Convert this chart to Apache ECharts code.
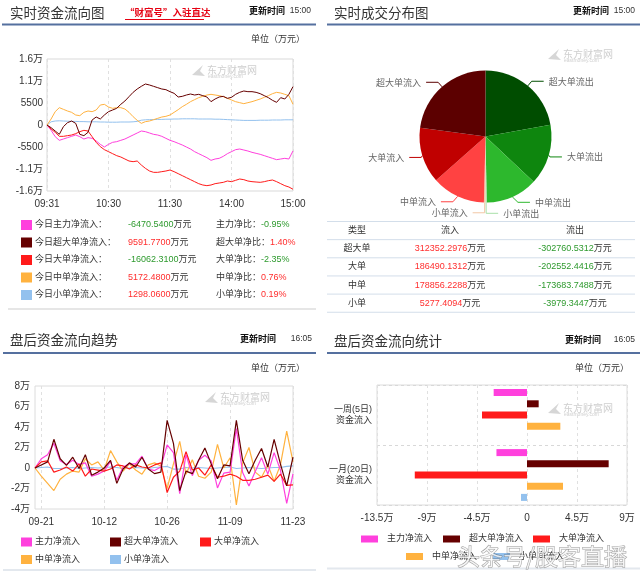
<!DOCTYPE html>
<html>
<head>
<meta charset="utf-8">
<title>资金流向</title>
<script src="https://cdn.jsdelivr.net/npm/echarts@6.0.0/dist/echarts.min.js"></script>
<style>
html,body{margin:0;padding:0;background:#fff;}
#main{width:640px;height:574px;}
</style>
</head>
<body>
<div id="main"></div>
<script>
// ---------------- DATA ----------------
const seriesNames = ['主力净流入','超大单净流入','大单净流入','中单净流入','小单净流入'];

// 实时资金流向 (minutes after 09:30, 万元 -> 元 scale as 万元*1)
const rtMinutes = [0,4,8,12,16,20,24,28,32,36,40,44,48,52,56,60,64,68,72,76,80,84,88,92,96,100,104,108,112,116,120,124,128,132,136,140,144,148,152,156,160,164,168,172,176,180,184,188,192,196,200,204,208,212,216,220,224,228,232,236,240];
const rtTimeLabels = ['09:31','10:30','11:30','14:00','15:00'];
const rtYLabels = ['-1.6万','-1.1万','-5500','0','5500','1.1万','1.6万'];
const rtMain = [0,-1333,-2917,-3833,-3500,-3167,-2833,-2500,-2917,-3500,-3167,-3333,-4000,-4833,-5500,-4833,-4333,-4167,-3833,-3500,-3000,-2500,-2000,-1500,-1667,-2000,-2333,-2500,-2833,-3333,-3833,-4167,-4583,-5000,-5500,-6000,-6667,-7167,-7667,-8167,-8833,-8500,-8333,-7833,-7167,-6667,-6167,-6000,-6250,-6500,-6833,-7083,-7333,-7667,-8000,-8333,-8667,-8500,-8333,-8500,-6470];
const rtSuper = [0,-667,-1500,-2333,-417,583,1000,417,-2333,-2667,-1833,1250,2000,1500,2500,3333,3750,4167,5167,6000,7083,8167,9000,9667,10250,10000,9667,9333,9000,8833,8333,7917,7000,7167,7500,7750,7500,7667,7333,7000,5833,6500,7000,7167,6667,6917,7667,8167,8500,8333,8333,8167,7833,7333,6833,6167,5667,6833,6500,7667,9592];
const rtLarge = [0,-1000,-1833,-2833,-2833,-2667,-2500,-2167,-1667,-1333,-1500,-2917,-4333,-5417,-6167,-6667,-7167,-7667,-8000,-8500,-9000,-9167,-9000,-10000,-10833,-11500,-11833,-11833,-11667,-11500,-11250,-11667,-12167,-12667,-13167,-13667,-14167,-14667,-15000,-15167,-15000,-14667,-14500,-14333,-14000,-14167,-13833,-13500,-13667,-14000,-14167,-14250,-14333,-14167,-13917,-13750,-14167,-14667,-15167,-15500,-16062];
const rtMedium = [0,1500,3333,4333,3917,3500,3167,2500,2333,3167,3500,3333,3750,5000,5167,4500,4167,4333,4333,4000,3167,2083,1167,417,833,1000,1333,1667,2000,2167,2500,3167,3833,4583,5167,5833,6333,6833,7167,7500,7667,7500,7333,7083,6667,6250,5833,5583,5333,5583,5833,6167,6500,6917,7333,7833,8167,8000,7667,7333,5172];
const rtSmall = [0,800,1000,1050,1000,950,900,900,850,850,800,800,800,750,750,700,700,700,750,750,750,800,900,1200,1300,1350,1350,1400,1400,1450,1450,1500,1500,1550,1550,1550,1550,1500,1500,1500,1500,1450,1450,1400,1350,1300,1250,1200,1150,1150,1150,1150,1200,1200,1200,1250,1250,1250,1300,1300,1298];

const rtSumNames = ['今日主力净流入：','今日超大单净流入：','今日大单净流入：','今日中单净流入：','今日小单净流入：'];
const rtSumValues = ['-6470.5400','9591.7700','-16062.3100','5172.4800','1298.0600'];
const rtRatioNames = ['主力净比：','超大单净比：','大单净比：','中单净比：','小单净比：'];
const rtRatioValues = ['-0.95%','1.40%','-2.35%','0.76%','0.19%'];

// 实时成交分布
const pieNames = ['超大单流出','大单流出','中单流出','小单流出','小单流入','中单流入','大单流入','超大单流入'];
const pieValues = [302760.5312,202552.4416,173683.7488,3979.3447,5277.4094,178856.2288,186490.1312,312352.2976];
const tableHead = ['类型','流入','流出'];
const tableTypes = ['超大单','大单','中单','小单'];
const tableIn = ['312352.2976','186490.1312','178856.2288','5277.4094'];
const tableOut = ['-302760.5312','-202552.4416','-173683.7488','-3979.3447'];

// 盘后资金流向趋势 (万元)
const histDates = ['09-20','09-21','09-24','09-25','09-26','09-27','09-28','10-08','10-09','10-10','10-11','10-12','10-15','10-16','10-17','10-18','10-19','10-22','10-23','10-24','10-25','10-26','10-29','10-30','10-31','11-01','11-02','11-05','11-06','11-07','11-08','11-09','11-12','11-13','11-14','11-15','11-16','11-19','11-20','11-21','11-22','11-23'];
const histYLabels = ['-4万','-2万','0','2万','4万','6万','8万'];
const histMain = [0,0.9,1.3,2.4,0.7,0.35,0.75,0.35,0.5,-0.8,-0.6,-0.3,0.65,-1.2,0.1,0.4,0.4,1.15,-0.1,-0.25,0.1,2.25,1.5,-2.5,1.3,-0.75,0.75,1.25,0.7,-1.95,-0.5,-0.4,3.85,-0.45,-1.75,-0.35,1.0,-0.6,1.5,-0.2,-3.45,-0.58];
const histSuper = [0,0.3,0.6,2.8,0.9,0.25,1.05,-0.05,1.3,-0.7,-0.4,0.0,0.75,-1.5,-0.1,0.5,0.1,1.05,-0.1,-0.55,-0.4,4.65,2.4,-2.2,-0.3,-0.55,0.75,1.95,0.4,-1.05,0.3,0.2,4.65,0.75,-0.55,0.75,1.9,0.1,2.8,0.4,-1.75,1.07];
const histLarge = [0,0.6,0.7,-0.4,-0.2,0.1,-0.3,0.4,-0.8,-0.1,-0.2,-0.3,-0.1,0.3,0.2,-0.1,0.3,0.1,0.0,0.3,0.5,-2.4,-0.9,-0.3,1.6,-0.2,0.0,-0.7,0.3,-0.9,-0.8,-0.6,-0.8,-1.2,-1.2,-1.1,-0.9,-0.7,-1.3,-0.6,-1.7,-1.65];
const histMedium = [0,-0.8,-1.5,-2.2,-1.1,-0.6,-0.3,-0.4,0.9,0.3,0.6,-0.2,1.7,0.6,-0.3,0.4,-0.2,-0.6,0.3,0.5,0.2,-2.0,0.4,2.6,-0.6,0.8,-0.8,-1.0,-0.4,2.3,0.0,1.0,-3.6,0.5,2.0,-0.4,-0.9,0.3,-1.3,0.3,3.6,0.6];
const histSmall = [0,0.05,0.1,-0.05,-0.05,0,0.05,-0.05,0,0.05,0,0.05,0.1,0.05,-0.05,0,0.05,0,-0.05,0.05,0.1,0.15,-0.1,-0.1,0.05,0,0.05,0,-0.05,0,0.05,0.1,-0.05,0,0.05,0,-0.05,0,0.05,0.05,0.15,0.2];

// 盘后资金流向统计 (万元)
const statCats = ['一周(5日)\n资金流入','一月(20日)\n资金流入'];
const statXLabels = ['-13.5万','-9万','-4.5万','0','4.5万','9万'];
const statMain = [-3.0,-2.75];
const statSuper = [1.05,7.35];
const statLarge = [-4.05,-10.1];
const statMedium = [3.0,3.24];
const statSmall = [0.0,-0.54];

// ---------------- STYLE ----------------
const COLORS = ['#ff40dd','#660000','#ff1a1a','#ffb23f','#93c1ee'];
const PIE_COLORS = ['#004d00','#0e860e','#2db82d','#a8e0a8','#f2c7a6','#ff4242','#c00000','#5c0000'];
const FF = '"Liberation Sans","Noto Sans CJK SC",sans-serif';
const FC = '"Noto Sans CJK SC",sans-serif';
const F9 = '9px ' + FF;
const RED = '#ff2d2d', GREEN = '#2e9a2e';

function T(x, y, text, font, fill, align, z) {
  return {type:'text', x:x, y:y, silent:true, z:(z==null?50:z),
    style:{text:text, font:font||F9, fill:fill||'#333', textAlign:align||'left', align:align||'left',
      textVerticalAlign:'middle', verticalAlign:'middle'}};
}
function R(x, y, text, rich, align) {
  return {type:'text', x:x, y:y, silent:true, z:50,
    style:{text:text, font:F9, fill:'#333', textAlign:align||'left', align:align||'left',
      textVerticalAlign:'middle', verticalAlign:'middle', rich:rich}};
}
function L(x1, y1, x2, y2, stroke, w) {
  return {type:'line', silent:true, z:40, shape:{x1:x1,y1:y1,x2:x2,y2:y2}, style:{stroke:stroke, lineWidth:w||1}};
}
function B(x, y, w, h, fill) {
  return {type:'rect', silent:true, z:40, shape:{x:x,y:y,width:w,height:h}, style:{fill:fill}};
}
function WM(x, y) {
  return [
    {type:'polygon', silent:true, z:0, shape:{points:[[x-15,y+5],[x-4,y-5],[x-7,y+1],[x-2,y+6]]}, style:{fill:'#d6d6d6'}},
    T(x, y, '东方财富网', '10px ' + FC, '#cfcfcf', 'left', 0),
    T(x + 1, y + 7, 'eastmoney.com', '5px ' + FF, '#cfcfcf', 'left', 0)
  ];
}
const sgnColor = s => (s.charAt(0) === '-' ? GREEN : RED);

const g = [];
const TITLE = '13.5px ' + FC;
const BLUE = '#55709f';
// --- top-left header
g.push(T(10, 13, '实时资金流向图', TITLE, '#333'));
g.push(T(125, 12.5, '“财富号”入驻直达', 'bold 9.5px ' + FC, '#e60012'));
g.push(L(125, 19.5, 204, 19.5, '#e60012', 1));
g.push(T(249, 11, '更新时间', 'bold 9px ' + FC, '#111'));
g.push(T(311, 11, '15:00', '8.5px ' + FF, '#333', 'right'));
g.push(L(2, 24.5, 316, 24.5, BLUE, 2));
g.push(T(305, 40, '单位（万元）', F9, '#333', 'right'));
g.push(...WM(207, 70));
// legend rows
const rowY = [225, 242.5, 260, 277.5, 295];
for (let i = 0; i < 5; i++) {
  g.push(B(21, rowY[i] - 5, 11, 10, COLORS[i]));
  g.push(T(35, rowY[i], rtSumNames[i], F9, '#333'));
  g.push(R(128, rowY[i], '{v|' + rtSumValues[i] + '}{u|万元}',
    {v:{fill:sgnColor(rtSumValues[i]), color:sgnColor(rtSumValues[i]), font:F9}, u:{fill:'#333', color:'#333', font:F9}}));
  g.push(R(216, rowY[i], '{a|' + rtRatioNames[i] + '}{v|' + rtRatioValues[i] + '}',
    {a:{fill:'#333', color:'#333', font:F9}, v:{fill:sgnColor(rtRatioValues[i]), color:sgnColor(rtRatioValues[i]), font:F9}}));
}
g.push(L(8, 309, 316, 309, '#e6e6e6', 2));

// --- top-right header
g.push(T(334, 13, '实时成交分布图', TITLE, '#333'));
g.push(T(573, 11, '更新时间', 'bold 9px ' + FC, '#111'));
g.push(T(635, 11, '15:00', '8.5px ' + FF, '#333', 'right'));
g.push(L(327, 24.5, 640, 24.5, BLUE, 2));
g.push(...WM(563, 54));
// table
const tTop = 221.5, tRow = 18.15;
for (let k = 0; k <= 5; k++) g.push(L(327, tTop + k * tRow, 635, tTop + k * tRow, '#d3deea', 1));
const colX = [357, 450, 575];
for (let c = 0; c < 3; c++) g.push(T(colX[c], tTop + tRow / 2, tableHead[c], F9, '#333', 'center'));
for (let r = 0; r < 4; r++) {
  const yy = tTop + tRow * (r + 1.5);
  g.push(T(colX[0], yy, tableTypes[r], F9, '#333', 'center'));
  g.push(R(colX[1], yy, '{v|' + tableIn[r] + '}{u|万元}', {v:{fill:RED, color:RED, font:F9}, u:{fill:'#333', color:'#333', font:F9}}, 'center'));
  g.push(R(colX[2], yy, '{v|' + tableOut[r] + '}{u|万元}', {v:{fill:GREEN, color:GREEN, font:F9}, u:{fill:'#333', color:'#333', font:F9}}, 'center'));
}

// --- bottom-left header
g.push(T(10, 340, '盘后资金流向趋势', TITLE, '#333'));
g.push(T(240, 339, '更新时间', 'bold 9px ' + FC, '#111'));
g.push(T(312, 339, '16:05', '8.5px ' + FF, '#333', 'right'));
g.push(L(3, 353, 316, 353, BLUE, 2));
g.push(T(305, 369, '单位（万元）', F9, '#333', 'right'));
g.push(...WM(220, 397));
const blLeg = [[21, 542], [110, 542], [200, 542], [21, 559.5], [110, 559.5]];
for (let i = 0; i < 5; i++) {
  g.push(B(blLeg[i][0], blLeg[i][1] - 4.5, 11, 9, COLORS[i]));
  g.push(T(blLeg[i][0] + 14, blLeg[i][1], seriesNames[i], F9, '#333'));
}
g.push(L(3, 570, 316, 570, '#e3e8ee', 2));

// --- bottom-right header
g.push(T(334, 341, '盘后资金流向统计', TITLE, '#333'));
g.push(T(565, 340, '更新时间', 'bold 9px ' + FC, '#111'));
g.push(T(635, 340, '16:05', '8.5px ' + FF, '#333', 'right'));
g.push(L(327, 353, 640, 353, BLUE, 2));
g.push(T(629, 369, '单位（万元）', F9, '#333', 'right'));
g.push(...WM(563, 408));
const brLeg = [[361, 539], [443, 539], [533, 539], [406, 556.5], [493, 556.5]];
for (let i = 0; i < 5; i++) {
  g.push(B(brLeg[i][0], brLeg[i][1] - 3.5, 17, 7, COLORS[i]));
  g.push(T(brLeg[i][0] + 26, brLeg[i][1], seriesNames[i], F9, '#333'));
}
g.push(L(327, 568.5, 640, 568.5, '#e3e8ee', 2));
// overlay watermark of the source image
g.push({type:'text', x:542, y:556, silent:true, z:200,
  style:{text:'头条号/股客直播', font:'23px ' + FC, fill:'rgba(255,255,255,0.75)', stroke:'rgba(80,80,80,0.55)', lineWidth:1,
    textAlign:'center', align:'center', textVerticalAlign:'middle', verticalAlign:'middle'}});

// ---------------- CHART ----------------
const axisLbl = {color:'#333', fontSize:10, fontFamily:FF};
const dash = {show:true, lineStyle:{color:'#e0e0e0', type:[3,3], width:1}};

const chart = echarts.init(document.getElementById('main'), null, {renderer:'canvas', width:640, height:574});

const rtSeriesData = [rtMain, rtSuper, rtLarge, rtMedium, rtSmall];
const histSeriesData = [histMain, histSuper, histLarge, histMedium, histSmall];
const statSeriesData = [statMain, statSuper, statLarge, statMedium, statSmall];
const drawOrder = [4, 3, 0, 2, 1];

const series = [];
drawOrder.forEach(i => {
  series.push({type:'line', name:seriesNames[i], xAxisIndex:0, yAxisIndex:0, symbol:'none', showSymbol:false,
    lineStyle:{color:COLORS[i], width:1}, itemStyle:{color:COLORS[i]},
    data:rtMinutes.map((m, k) => [m, rtSeriesData[i][k]])});
});
drawOrder.forEach(i => {
  series.push({type:'line', name:seriesNames[i], xAxisIndex:1, yAxisIndex:1, symbol:'none', showSymbol:false,
    lineStyle:{color:COLORS[i], width:1.2}, itemStyle:{color:COLORS[i]},
    data:histSeriesData[i]});
});
for (let i = 0; i < 5; i++) {
  series.push({type:'bar', name:seriesNames[i], xAxisIndex:2, yAxisIndex:2, barWidth:7, barGap:'60%',
    itemStyle:{color:COLORS[i]}, data:statSeriesData[i]});
}
series.push({type:'pie', center:[485.5, 136.5], radius:66, startAngle:90, clockwise:true,
  avoidLabelOverlap:true,
  label:{show:true, formatter:'{b}', color:'#666', fontSize:9, fontFamily:FC},
  labelLine:{show:true, length:6, length2:12, lineStyle:{width:1}},
  itemStyle:{borderWidth:0},
  data:pieNames.map((n, i) => ({name:n, value:pieValues[i], itemStyle:{color:PIE_COLORS[i]}}))});

const option = {
  animation:false,
  backgroundColor:'#fff',
  grid:[
    {left:47, top:59, width:246, height:132, show:true, borderColor:'#d9d9d9', borderWidth:1, outerBoundsMode:'none'},
    {left:35, top:386, width:258, height:123, show:true, borderColor:'#dcdcdc', borderWidth:1, outerBoundsMode:'none'},
    {left:377, top:385, width:250, height:120, show:true, borderColor:'#dcdcdc', borderWidth:1, outerBoundsMode:'none'}
  ],
  xAxis:[
    {gridIndex:0, type:'value', min:0, max:240, interval:60,
      axisLine:{show:false}, axisTick:{show:false},
      axisLabel:Object.assign({margin:8, formatter:v => rtTimeLabels[Math.round(v / 60)]}, axisLbl),
      splitLine:dash},
    {gridIndex:1, type:'category', data:histDates, boundaryGap:false,
      axisLine:{show:false}, axisTick:{show:false},
      axisLabel:Object.assign({margin:8, interval:(i) => i % 10 === 1}, axisLbl),
      splitLine:{show:true, interval:(i) => i % 10 === 1, lineStyle:{color:'#e0e0e0', type:[3,3], width:1}}},
    {gridIndex:2, type:'value', min:-13.5, max:9, interval:4.5,
      axisLine:{show:false}, axisTick:{show:false},
      axisLabel:Object.assign({margin:8, formatter:v => statXLabels[Math.round((v + 13.5) / 4.5)]}, axisLbl),
      splitLine:dash}
  ],
  yAxis:[
    {gridIndex:0, type:'value', min:-16500, max:16500, interval:5500,
      axisLine:{show:false}, axisTick:{show:false}, splitLine:{show:false},
      axisLabel:Object.assign({margin:4, formatter:v => rtYLabels[Math.round((v + 16500) / 5500)]}, axisLbl)},
    {gridIndex:1, type:'value', min:-4, max:8, interval:2,
      axisLine:{show:false}, axisTick:{show:false}, splitLine:{show:false},
      axisLabel:Object.assign({margin:5, formatter:v => histYLabels[Math.round((v + 4) / 2)]}, axisLbl)},
    {gridIndex:2, type:'category', inverse:true, data:statCats,
      axisLine:{show:false}, axisTick:{show:true, alignWithLabel:true, length:3, lineStyle:{color:'#999'}},
      splitLine:{show:true, lineStyle:{color:'#d8d8d8', type:[3,3], width:1}},
      axisLabel:{color:'#333', fontSize:9, lineHeight:11, fontFamily:FF, margin:5}}
  ],
  graphic:{elements:g},
  series:series
};
chart.setOption(option);
</script>
</body>
</html>
